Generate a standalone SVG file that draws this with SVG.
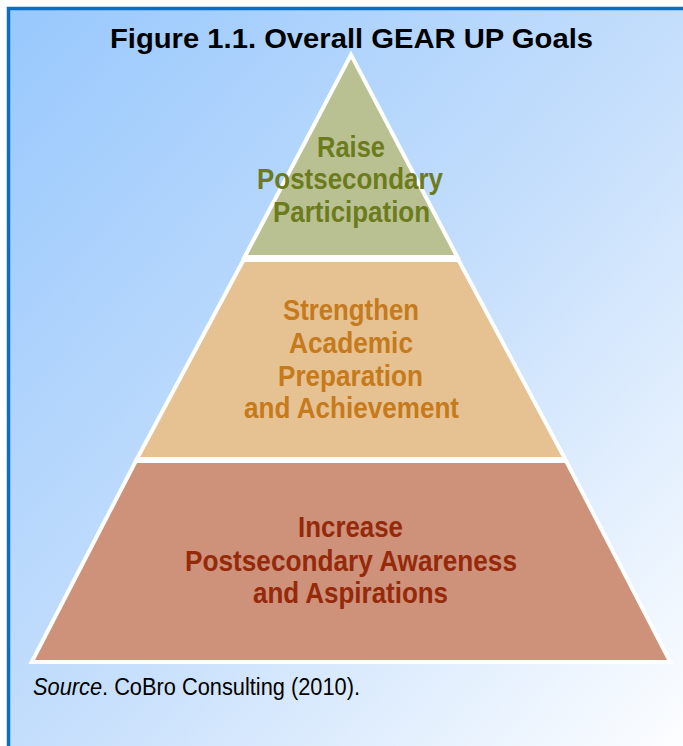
<svg xmlns="http://www.w3.org/2000/svg" width="683" height="746" viewBox="0 0 683 746">
  <defs>
    <linearGradient id="panelFill" x1="0" y1="0" x2="1" y2="1">
      <stop offset="0" stop-color="#98c8fd"/>
      <stop offset="0.5" stop-color="#c4defc"/>
      <stop offset="1" stop-color="#ffffff"/>
    </linearGradient>
    <style>
      .tier { stroke: #ffffff; stroke-width: 8; stroke-linejoin: miter; paint-order: stroke; }
      .lbl { font-family: "Liberation Sans", Arial, sans-serif; font-weight: bold; font-size: 30px; text-anchor: middle; }
      .top { fill: #b9c192; }
      .top-t { fill: #6c7c1d; }
      .mid { fill: #e6c292; }
      .mid-t { fill: #c57a1b; }
      .base { fill: #ce917a; }
      .base-t { fill: #952a0b; }
    </style>
  </defs>

  <!-- page background and framed panel -->
  <rect x="0" y="0" width="683" height="746" fill="#ffffff"/>
  <rect x="8" y="8" width="690" height="760" fill="#6aaae6"/>
  <rect x="8.5" y="8.5" width="690" height="760" fill="url(#panelFill)" stroke="#0a6fc3" stroke-width="3.5"/>

  <!-- title -->
  <text x="351.5" y="48" font-family="Liberation Sans, Arial, sans-serif" font-weight="bold" font-size="28" text-anchor="middle" textLength="483" lengthAdjust="spacingAndGlyphs" fill="#000000">Figure 1.1. Overall GEAR UP Goals</text>

  <!-- top tier -->
  <g id="tier-participation">
    <polygon class="tier top" points="351,59 454.1,255 247.9,255"/>
    <text class="lbl top-t" x="351" y="157" textLength="68" lengthAdjust="spacingAndGlyphs">Raise</text>
    <text class="lbl top-t" x="350" y="189" textLength="186" lengthAdjust="spacingAndGlyphs">Postsecondary</text>
    <text class="lbl top-t" x="351.5" y="222" textLength="157" lengthAdjust="spacingAndGlyphs">Participation</text>
  </g>

  <!-- middle tier -->
  <g id="tier-academic">
    <polygon class="tier mid" points="244.7,262 457.3,262 561.8,457 140.2,457"/>
    <text class="lbl mid-t" x="351" y="320" textLength="136" lengthAdjust="spacingAndGlyphs">Strengthen</text>
    <text class="lbl mid-t" x="351" y="353" textLength="124" lengthAdjust="spacingAndGlyphs">Academic</text>
    <text class="lbl mid-t" x="350.5" y="386" textLength="145" lengthAdjust="spacingAndGlyphs">Preparation</text>
    <text class="lbl mid-t" x="351.5" y="418" textLength="215" lengthAdjust="spacingAndGlyphs">and Achievement</text>
  </g>

  <!-- base tier -->
  <g id="tier-awareness">
    <polygon class="tier base" points="137.1,463 564.9,463 667,660 35,660"/>
    <text class="lbl base-t" x="350.5" y="537" textLength="105" lengthAdjust="spacingAndGlyphs">Increase</text>
    <text class="lbl base-t" x="351" y="571" textLength="332" lengthAdjust="spacingAndGlyphs">Postsecondary Awareness</text>
    <text class="lbl base-t" x="350.5" y="603" textLength="195" lengthAdjust="spacingAndGlyphs">and Aspirations</text>
  </g>

  <!-- source note -->
  <text x="33" y="695" font-family="Liberation Sans, Arial, sans-serif" font-size="23" fill="#000000" textLength="327" lengthAdjust="spacingAndGlyphs"><tspan font-style="italic">Source</tspan>. CoBro Consulting (2010).</text>
</svg>
